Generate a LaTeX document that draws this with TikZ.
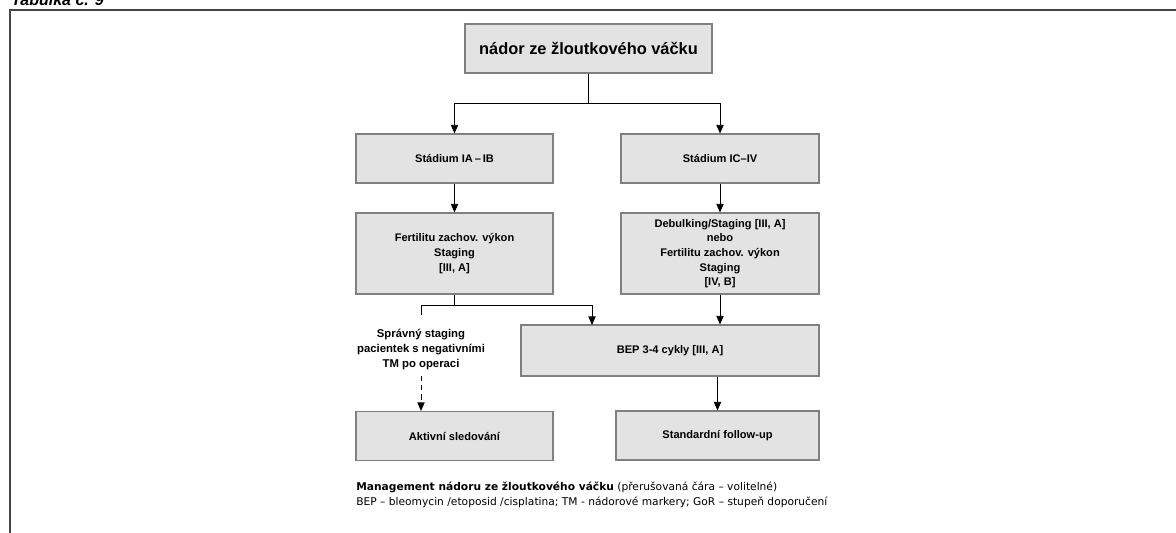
\documentclass[tikz,border=0pt]{standalone}
\usepackage{fontspec}
\setmainfont{Liberation Sans}
\newfontfamily\legendfont{DejaVu Sans}
\usepackage{tikz}
\usetikzlibrary{arrows.meta,positioning}
\definecolor{boxfill}{RGB}{227, 227, 227}
\definecolor{boxline}{RGB}{128, 128, 128}
\definecolor{framegray}{RGB}{70, 70, 70}

\begin{document}
\begin{tikzpicture}[x=0.75pt, y=-0.75pt,
    stage/.style={rectangle, draw=boxline, fill=boxfill, line width=0.8pt,
      minimum width=147.75pt, minimum height=36.75pt, inner sep=1pt,
      align=center, font=\fontsize{8.3}{11}\selectfont\bfseries},
    note/.style={align=center, inner sep=0pt, font=\fontsize{8.5}{11.25}\selectfont\bfseries},
    conn/.style={line width=0.7pt, black},
    arr/.style={conn, -{Triangle[length=6.5pt, width=5.5pt]}}]

\useasboundingbox (0,0) rectangle (1176,532);

% Frame and heading (cut by the page edge)
\draw[framegray, line width=1.5pt] (10,10) rectangle (1200,560);
\node[anchor=base west, inner sep=0pt, font=\fontsize{12}{14}\selectfont\bfseries\itshape]
   (title) at (11,5) {Tabulka č. 9};

% Root
\node[stage, minimum width=185.25pt, font=\fontsize{12.3}{15}\selectfont\bfseries]
   (root) at (588.5,48.5) {nádor ze žloutkového váčku};
% Stages
\node[stage] (stA) at (454.5,158.5) {Stádium IA\,–\,IB};
\node[stage, minimum width=148.5pt] (stC) at (720,158.5) {Stádium IC–IV};
% Surgery
\node[stage, minimum height=60.75pt] (fert) at (454.5,253.5)
   {Fertilitu zachov. výkon\\Staging\\{[III, A]}};
\node[stage, minimum width=148.5pt, minimum height=60.75pt] (debulk) at (720,253.5)
   {Debulking/Staging [III, A]\\nebo\\Fertilitu zachov. výkon\\Staging\\{[IV, B]}};
% Treatment
\node[stage, minimum width=223.5pt, minimum height=38.25pt] (bep) at (670,350.5)
   {BEP 3-4 cykly [III, A]};
\node[note, anchor=north] (crit) at (421,329)
   {Správný staging\\pacientek s negativními\\TM po operaci};
% Follow-up
\node[stage] (akt) at (454.5,436) {Aktivní sledování};
\node[stage, minimum width=152.25pt] (std) at (717.5,435.5) {Standardní follow-up};

% Branch points
\coordinate (split1) at (588.5,103);
\coordinate (split2) at (454.5,305);
\coordinate (bepL) at (592,325);

% Connectors
\draw[conn] (root) -- (split1);
\draw[arr] (split1) -| (stA);
\draw[arr] (split1) -| (stC);
\draw[arr] (stA) -- (fert);
\draw[arr] (stC) -- (debulk);
\draw[conn] (fert) -- (split2);
\draw[arr] (split2) -| (bepL);
\draw[conn, shorten >=10.5pt] (split2) -| (crit.north);
\draw[arr] (debulk) -- (debulk |- bep.north);
\draw[arr, dash pattern=on 4pt off 3pt, shorten <=4pt] (crit.south) -- (crit.south |- akt.north);
\draw[arr] (std |- bep.south) -- (std);

% Legend
\node[anchor=north west, inner sep=0pt, align=left, font=\legendfont\fontsize{8}{11.25}\selectfont]
   (legend) at (356,482)
   {\textbf{Management nádoru ze žloutkového váčku} (přerušovaná čára – volitelné)\\
    BEP – bleomycin /etoposid /cisplatina; TM - nádorové markery; GoR – stupeň doporučení};

\end{tikzpicture}
\end{document}
